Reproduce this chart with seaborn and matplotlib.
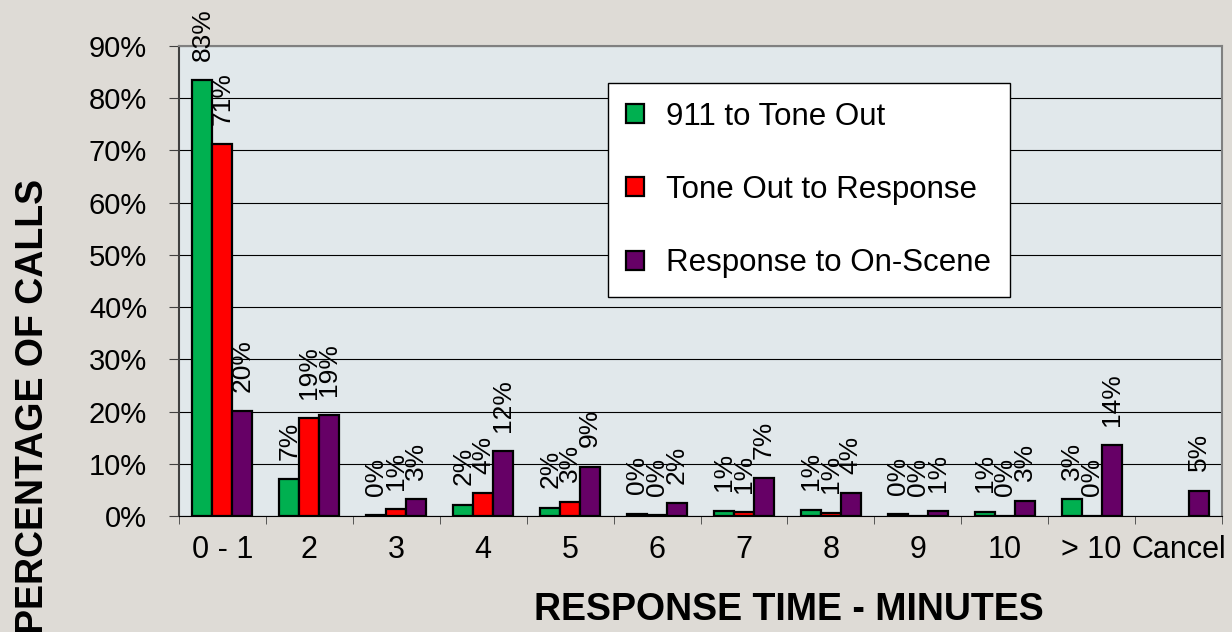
import numpy as np
import pandas as pd
import seaborn as sns
import matplotlib.pyplot as plt
from matplotlib.ticker import FixedLocator, PercentFormatter

# response time buckets and the three call phases (percent of calls)
categories = ["0 - 1", "2", "3", "4", "5", "6", "7", "8", "9", "10", "> 10", "Cancel"]
series = ["911 to Tone Out", "Tone Out to Response", "Response to On-Scene"]
tone_out = [83.4, 7.0, 0.2, 2.2, 1.6, 0.4, 1.0, 1.2, 0.3, 0.8, 3.2, np.nan]
tone_to_response = [71.2, 18.7, 1.3, 4.4, 2.7, 0.1, 0.7, 0.6, 0.05, 0.05, 0.05, np.nan]
response_to_scene = [20.1, 19.3, 3.2, 12.4, 9.4, 2.4, 7.2, 4.4, 0.9, 2.9, 13.6, 4.8]
colors = ["#00B050", "#FF0000", "#660066"]

df = pd.DataFrame({
    "category": categories * 3,
    "series": np.repeat(series, len(categories)),
    "value": tone_out + tone_to_response + response_to_scene,
}).dropna()

plt.rcParams["font.family"] = ["Liberation Sans", "DejaVu Sans"]

fig = plt.figure(figsize=(12.32, 6.32), dpi=100, facecolor="#dedbd6")
ax = fig.add_axes([179 / 1232, 1 - 516 / 632, 1043 / 1232, 470 / 632])
ax.set_facecolor("#e1e8eb")

sns.barplot(data=df, x="category", y="value", hue="series", order=categories,
            hue_order=series, palette=colors, saturation=1, width=0.69,
            edgecolor="black", linewidth=1.6, ax=ax, zorder=3)

for cont in ax.containers:
    ax.bar_label(cont, fmt="{:.0f}%", rotation=90, padding=14, fontsize=19)

ax.set_xlim(-0.5, len(categories) - 0.5)
ax.set_ylim(0, 90)
ax.yaxis.set_major_locator(FixedLocator(np.arange(0, 91, 10)))
ax.yaxis.set_major_formatter(PercentFormatter(decimals=0))
ax.grid(axis="y", color="black", linewidth=0.8, zorder=0)
ax.set_axisbelow(True)

# tick marks between the buckets, labels at the bucket centres
ax.xaxis.set_minor_locator(FixedLocator(np.arange(-0.5, len(categories), 1)))
ax.tick_params(axis="x", which="major", length=0, pad=14, labelsize=22)
ax.tick_params(axis="x", which="minor", length=6, color="#404040", direction="out")
ax.tick_params(axis="y", length=7, pad=16, labelsize=21, color="#404040")

for side in ["top", "right"]:
    ax.spines[side].set_color("#808080")
    ax.spines[side].set_linewidth(1.5)
ax.spines["left"].set_color("#404040")
ax.spines["left"].set_linewidth(1.5)
ax.spines["bottom"].set_color("black")

ax.set_xlabel("RESPONSE TIME - MINUTES", fontsize=27, fontweight="bold")
ax.xaxis.set_label_coords(0.585, -0.162)
ax.set_ylabel("PERCENTAGE OF CALLS", fontsize=27, fontweight="bold")
ax.yaxis.set_label_coords(-0.123, 0.234)

ax.legend(loc="upper left", bbox_to_anchor=(0.411, 0.921), fontsize=22.5,
          frameon=True, fancybox=False, edgecolor="black", framealpha=1,
          handlelength=0.56, handleheight=0.56, handletextpad=0.72,
          labelspacing=1.38, borderpad=0.6, borderaxespad=0)

fig.savefig("out.png", dpi=100, facecolor=fig.get_facecolor())
